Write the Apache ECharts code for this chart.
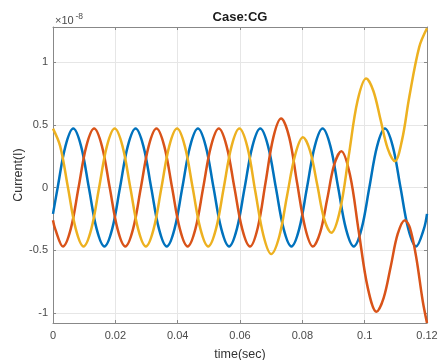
<!DOCTYPE html>
<html>
<head>
<meta charset="utf-8">
<script src="https://cdn.jsdelivr.net/npm/echarts@6/dist/echarts.min.js"></script>
<style>
  html, body { margin: 0; padding: 0; background: #fff; }
  #chart { width: 439px; height: 360px; }
</style>
</head>
<body>
<div id="chart"></div>
<script>
// time (s) and current (x1e-8), per phase
const blueTime = [0, 0.0015, 0.004, 0.0065, 0.009, 0.0115, 0.014, 0.0165, 0.019,
  0.0215, 0.024, 0.0265, 0.029, 0.0315, 0.034, 0.0365, 0.039,
  0.0415, 0.044, 0.0465, 0.049, 0.0515, 0.054, 0.0565, 0.059,
  0.0615, 0.064, 0.0665, 0.069, 0.0715, 0.074, 0.0765, 0.079,
  0.0815, 0.084, 0.0865, 0.089, 0.0915, 0.094, 0.0965, 0.099,
  0.1015, 0.104, 0.1065, 0.109, 0.1115, 0.114, 0.1165, 0.119, 0.12];
const blueCurrent = [-0.21, 0, 0.33, 0.47, 0.33, 0, -0.33, -0.47, -0.33,
  0, 0.33, 0.47, 0.33, 0, -0.33, -0.47, -0.33,
  0, 0.33, 0.47, 0.33, 0, -0.33, -0.47, -0.33,
  0, 0.33, 0.47, 0.33, 0, -0.33, -0.47, -0.33,
  0, 0.33, 0.47, 0.33, 0, -0.33, -0.47, -0.33,
  0, 0.33, 0.47, 0.33, 0, -0.33, -0.47, -0.33, -0.21];

const redTime = [0, 0.0007, 0.0032, 0.0057, 0.0082, 0.0107, 0.0132, 0.0157, 0.0182,
  0.0207, 0.0232, 0.0257, 0.0282, 0.0307, 0.0332, 0.0357, 0.0382,
  0.0407, 0.0432, 0.0457, 0.0482, 0.0507, 0.0532, 0.0557, 0.0582,
  0.0607, 0.0632, 0.0657, 0.0682, 0.0707, 0.0732, 0.0758, 0.0783,
  0.0809, 0.0834, 0.0857, 0.088, 0.0902, 0.0925, 0.0953, 0.0981,
  0.101, 0.1038, 0.1061, 0.1084, 0.1106, 0.1129, 0.1145, 0.1165, 0.1186, 0.12];
const redCurrent = [-0.26, -0.33, -0.47, -0.33, 0, 0.33, 0.47, 0.33, 0,
  -0.33, -0.47, -0.33, 0, 0.33, 0.47, 0.33, 0,
  -0.33, -0.47, -0.33, 0, 0.33, 0.47, 0.33, 0,
  -0.33, -0.47, -0.32, 0.04, 0.40, 0.55, 0.40, 0.04,
  -0.32, -0.47, -0.36, -0.09, 0.18, 0.29, 0.10, -0.35,
  -0.80, -0.99, -0.88, -0.625, -0.37, -0.26, -0.32, -0.55, -0.90, -1.08];

const yellowTime = [0, 0.0023, 0.0048, 0.0073, 0.0098, 0.0123, 0.0148, 0.0173, 0.0198,
  0.0223, 0.0248, 0.0273, 0.0298, 0.0323, 0.0348, 0.0373, 0.0398,
  0.0423, 0.0448, 0.0473, 0.0498, 0.0523, 0.0548, 0.0573, 0.0598,
  0.0624, 0.0649, 0.0675, 0.07, 0.0726, 0.0751, 0.0777, 0.0802,
  0.0825, 0.0848, 0.087, 0.0893, 0.0921, 0.0949, 0.0977, 0.1005,
  0.1028, 0.1051, 0.1074, 0.1097, 0.112, 0.1143, 0.1175, 0.12];
const yellowCurrent = [0.47, 0.33, 0, -0.33, -0.47, -0.33, 0, 0.33, 0.47,
  0.33, 0, -0.33, -0.47, -0.33, 0, 0.33, 0.47,
  0.33, 0, -0.33, -0.47, -0.33, 0, 0.33, 0.47,
  0.32, -0.03, -0.38, -0.53, -0.39, -0.065, 0.26, 0.40,
  0.29, 0.02, -0.25, -0.36, -0.18, 0.255, 0.69, 0.87,
  0.77, 0.54, 0.31, 0.21, 0.38, 0.72, 1.12, 1.27];

const pairs = (ts, vs) => ts.map((t, i) => [t, vs[i]]);

const chart = echarts.init(document.getElementById('chart'));

const fontFamily = '"Liberation Sans", Arial, sans-serif';
const axisColor = '#888';
const labelColor = '#4a4a4a';

const xBase = { type: 'value', min: 0, max: 0.12, interval: 0.02 };
const yBase = { type: 'value', min: -1.08, max: 1.28, splitNumber: 5 };
const boxLine = { show: true, onZero: false, lineStyle: { color: axisColor, width: 1 } };
const inTick = { show: true, inside: true, length: 3, lineStyle: { color: axisColor } };

chart.setOption({
  animation: false,
  backgroundColor: '#fff',
  title: {
    text: 'Case:CG',
    left: 240,
    top: 11,
    padding: 0,
    textAlign: 'center',
    textStyle: { fontFamily, fontSize: 13, fontWeight: 'bold', color: '#1a1a1a' }
  },
  grid: { left: 53, right: 12, top: 27, bottom: 37, containLabel: false, outerBoundsMode: 'none' },
  graphic: [
    { type: 'text', x: 55, y: 20.5,
      style: { text: '×10', font: '11px ' + fontFamily, fill: labelColor, verticalAlign: 'middle' } },
    { type: 'text', x: 75.5, y: 16.5,
      style: { text: '-8', font: '8.5px ' + fontFamily, fill: labelColor, verticalAlign: 'middle' } }
  ],
  xAxis: [
    Object.assign({}, xBase, {
      position: 'bottom',
      name: 'time(sec)',
      nameLocation: 'middle',
      nameGap: 25,
      nameMoveOverlap: false,
      nameTextStyle: { fontFamily, fontSize: 12.5, color: '#333' },
      axisLine: boxLine,
      axisTick: inTick,
      axisLabel: { fontFamily, fontSize: 11, color: labelColor, margin: 7 },
      splitLine: { show: true, lineStyle: { color: '#e6e6e6', width: 1 } }
    }),
    Object.assign({}, xBase, {
      position: 'top',
      axisLine: boxLine,
      axisTick: inTick,
      axisLabel: { show: false },
      splitLine: { show: false }
    })
  ],
  yAxis: [
    Object.assign({}, yBase, {
      position: 'left',
      name: 'Current(I)',
      nameLocation: 'middle',
      nameGap: 28,
      nameMoveOverlap: false,
      nameTextStyle: { fontFamily, fontSize: 12.5, color: '#333' },
      axisLine: boxLine,
      axisTick: inTick,
      axisLabel: { fontFamily, fontSize: 11, color: labelColor, margin: 5,
        showMinLabel: false, showMaxLabel: false },
      splitLine: { show: true, lineStyle: { color: '#e6e6e6', width: 1 } }
    }),
    Object.assign({}, yBase, {
      position: 'right',
      axisLine: boxLine,
      axisTick: inTick,
      axisLabel: { show: false },
      splitLine: { show: false }
    })
  ],
  series: [
    { type: 'line', data: pairs(blueTime, blueCurrent), showSymbol: false, smooth: 0.35,
      lineStyle: { color: '#0072BD', width: 2.5 } },
    { type: 'line', data: pairs(redTime, redCurrent), showSymbol: false, smooth: 0.35,
      lineStyle: { color: '#D95319', width: 2.5 } },
    { type: 'line', data: pairs(yellowTime, yellowCurrent), showSymbol: false, smooth: 0.35,
      lineStyle: { color: '#EDB120', width: 2.5 } }
  ]
});
</script>
</body>
</html>
